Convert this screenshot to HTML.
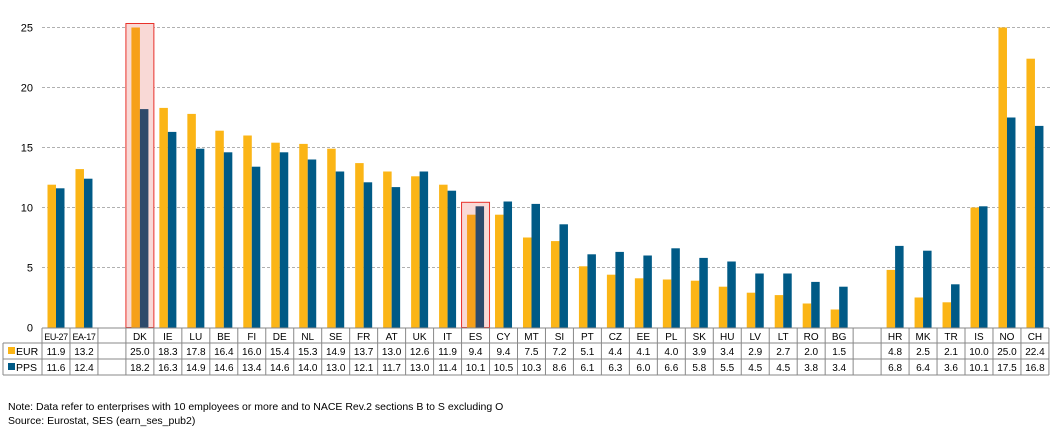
<!DOCTYPE html>
<html><head><meta charset="utf-8"><style>
body{margin:0;background:#fff;width:1054px;height:433px;overflow:hidden;font-family:"Liberation Sans",sans-serif}
svg text{font-family:"Liberation Sans",sans-serif}
.note{position:absolute;left:8px;font-size:10.5px;color:#000}
</style></head><body>
<svg id="c" width="1054" height="433" style="position:absolute;left:0;top:0"></svg>
<div class="note" style="top:401px">Note: Data refer to enterprises with 10 employees or more and to NACE Rev.2 sections B to S excluding O</div>
<div class="note" style="top:415px">Source: Eurostat, SES (earn_ses_pub2)</div>
<script>
const categories=["EU-27","EA-17","","DK","IE","LU","BE","FI","DE","NL","SE","FR","AT","UK","IT","ES","CY","MT","SI","PT","CZ","EE","PL","SK","HU","LV","LT","RO","BG","","HR","MK","TR","IS","NO","CH"];
const eur=[11.9,13.2,null,25.0,18.3,17.8,16.4,16.0,15.4,15.3,14.9,13.7,13.0,12.6,11.9,9.4,9.4,7.5,7.2,5.1,4.4,4.1,4.0,3.9,3.4,2.9,2.7,2.0,1.5,null,4.8,2.5,2.1,10.0,25.0,22.4];
const pps=[11.6,12.4,null,18.2,16.3,14.9,14.6,13.4,14.6,14.0,13.0,12.1,11.7,13.0,11.4,10.1,10.5,10.3,8.6,6.1,6.3,6.0,6.6,5.8,5.5,4.5,4.5,3.8,3.4,null,6.8,6.4,3.6,10.1,17.5,16.8];
const yTicks=[0,5,10,15,20,25];
const highlighted=["DK","ES"];
const svg=document.getElementById('c');
const NS="http://www.w3.org/2000/svg";
const x0=42,slot=27.97,yBase=327.5,ppu=12;
const X=i=>x0+i*slot;
const Y=v=>yBase-v*ppu;
function mk(t,a,txt){const e=document.createElementNS(NS,t);for(const k in a)e.setAttribute(k,a[k]);if(txt!=null)e.textContent=txt;svg.appendChild(e);return e;}
yTicks.forEach(t=>{
 if(t>0){const g=mk('line',{x1:x0,x2:1050,y1:Y(t),y2:Y(t),stroke:'#b0b0b0','stroke-dasharray':'3,2'});
 
 }
 const l=mk('text',{x:33,y:Y(t)+4,'font-size':11,'text-anchor':'end',fill:'#000'},t);
 
 
});
categories.forEach((c,i)=>{
 if(highlighted.includes(c)){
  const top=Math.max(eur[i],pps[i]);
  const h=mk('rect',{x:X(i),y:Y(top)-4,width:slot,height:yBase-Y(top)+4,fill:'#f9d9d6',stroke:'#e8312a','stroke-width':1});
  
  
 }
});
categories.forEach((c,i)=>{
 if(eur[i]==null)return;
 const b1=mk('rect',{x:X(i)+5.5,y:Y(eur[i]),width:8.5,height:eur[i]*ppu,fill:highlighted.includes(c)?'#f6a01a':'#fbb516'});
 
 
 const b2=mk('rect',{x:X(i)+14,y:Y(pps[i]),width:8.5,height:pps[i]*ppu,fill:highlighted.includes(c)?'#2e4a6b':'#005a86'});
 
 
});
const rows=[328,343,359,375];
const tc='#888';
mk('line',{x1:x0,x2:X(36),y1:rows[0],y2:rows[0],stroke:tc});
mk('line',{x1:3,x2:X(36),y1:rows[1],y2:rows[1],stroke:tc});
mk('line',{x1:3,x2:X(36),y1:rows[2],y2:rows[2],stroke:tc});
mk('line',{x1:3,x2:X(36),y1:rows[3],y2:rows[3],stroke:tc});
mk('line',{x1:3,x2:3,y1:rows[1],y2:rows[3],stroke:tc});
for(let i=0;i<=36;i++)mk('line',{x1:X(i),x2:X(i),y1:rows[0],y2:rows[3],stroke:tc});
const lg1=mk('rect',{x:8,y:347,width:7,height:7,fill:'#fbb516'});

const lg2=mk('rect',{x:8,y:363,width:7,height:7,fill:'#005a86'});

mk('text',{x:16,y:355,'font-size':10.5},'EUR');
mk('text',{x:16,y:371,'font-size':10.5},'PPS');
categories.forEach((c,i)=>{
 const cx=X(i)+slot/2;
 const t=mk('text',{x:cx,y:340,'font-size':c.length>3?9:10,'letter-spacing':c.length>3?-0.4:0,'text-anchor':'middle'},c);
 
 
 if(eur[i]!=null){
  mk('text',{x:cx,y:355,'font-size':10,'text-anchor':'middle'},eur[i].toFixed(1));
  mk('text',{x:cx,y:371,'font-size':10,'text-anchor':'middle'},pps[i].toFixed(1));
 }
});
</script>
</body></html>
